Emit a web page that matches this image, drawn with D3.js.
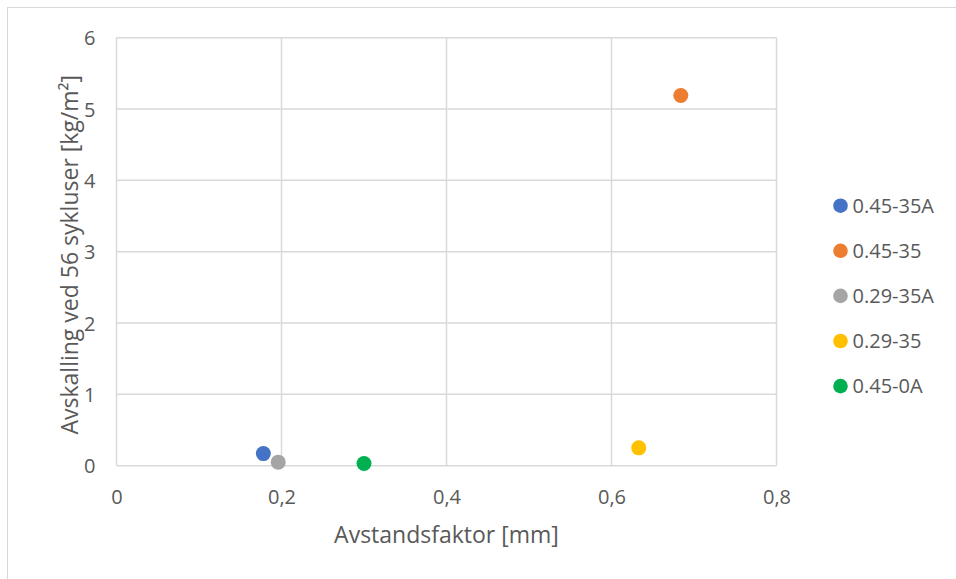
<!DOCTYPE html>
<html>
<head>
<meta charset="utf-8">
<script src="https://cdn.jsdelivr.net/npm/d3@7"></script>
<style>
  html, body { margin: 0; padding: 0; background: #fff; }
  svg { display: block; }
  text { font-family: "Open Sans", "Noto Sans", sans-serif; fill: #595959; }
</style>
</head>
<body>
<svg id="chart" width="956" height="579"></svg>
<script>
// ---- data ----
const seriesNames = ["0.45-35A", "0.45-35", "0.29-35A", "0.29-35", "0.45-0A"];
const xValues = [0.178, 0.684, 0.196, 0.633, 0.300];
const yValues = [0.17, 5.19, 0.05, 0.25, 0.03];
const seriesColors = ["#4472C4", "#ED7D31", "#A5A5A5", "#FFC000", "#00B050"];
const xTicks = [0, 0.2, 0.4, 0.6, 0.8];
const yTicks = [0, 1, 2, 3, 4, 5, 6];
const xTitle = "Avstandsfaktor [mm]";
const yTitle = "Avskalling ved 56 sykluser [kg/m²]";

// ---- layout ----
const svg = d3.select("#chart");
const L = 116.5, R = 776.5, T = 37.7, B = 465.7;
const grid = "#d9d9d9";

svg.append("rect").attr("x", 7.5).attr("y", 7.5).attr("width", 1000).attr("height", 1000)
  .attr("fill", "none").attr("stroke", grid).attr("stroke-width", 1);

const x = d3.scaleLinear().domain([0, 0.8]).range([L, R]);
const y = d3.scaleLinear().domain([0, 6]).range([B, T]);
const fmt = d => d === 0 ? "0" : d3.format(".1f")(d).replace(".", ",");

// gridlines
svg.append("g").selectAll("line").data(xTicks).join("line")
  .attr("x1", d => x(d)).attr("x2", d => x(d)).attr("y1", T).attr("y2", B)
  .attr("stroke", grid).attr("stroke-width", 1.5);
svg.append("g").selectAll("line").data(yTicks).join("line")
  .attr("x1", L).attr("x2", R).attr("y1", d => y(d)).attr("y2", d => y(d))
  .attr("stroke", grid).attr("stroke-width", 1.5);

// axes (labels only)
const xAxis = svg.append("g").attr("transform", `translate(0,${B})`)
  .call(d3.axisBottom(x).tickValues(xTicks).tickFormat(fmt).tickSize(0).tickPadding(0));
xAxis.select(".domain").remove();
xAxis.selectAll("text").attr("y", 38.5).attr("dy", 0)
  .style("font-size", "20px").style("fill", "#595959");

const yAxis = svg.append("g").attr("transform", `translate(${L},0)`)
  .call(d3.axisLeft(y).tickValues(yTicks).tickFormat(d3.format("d")).tickSize(0).tickPadding(0));
yAxis.select(".domain").remove();
yAxis.selectAll("text").attr("x", -21).attr("dy", "0.36em")
  .style("font-size", "20px").style("fill", "#595959");

// titles
svg.append("text").attr("x", (L + R) / 2).attr("y", 543).attr("text-anchor", "middle")
  .style("font-size", "23px").text(xTitle);
svg.append("text").attr("transform", `translate(78,${(T + B) / 2 + 3}) rotate(-90)`)
  .attr("text-anchor", "middle").style("font-size", "23px").text(yTitle);

// points
const pts = seriesNames.map((n, i) => ({ name: n, x: xValues[i], y: yValues[i], c: seriesColors[i] }));
svg.append("g").selectAll("circle").data(pts).join("circle")
  .attr("cx", d => x(d.x)).attr("cy", d => y(d.y)).attr("r", 7.5)
  .attr("fill", d => d.c);

// legend
const lg = svg.append("g").selectAll("g").data(pts).join("g")
  .attr("transform", (d, i) => `translate(840.5,${205.7 + i * 45.1})`);
lg.append("circle").attr("r", 7.3).attr("fill", d => d.c);
lg.append("text").attr("x", 12).attr("dy", "0.36em").style("font-size", "20px").text(d => d.name);
</script>
</body>
</html>
